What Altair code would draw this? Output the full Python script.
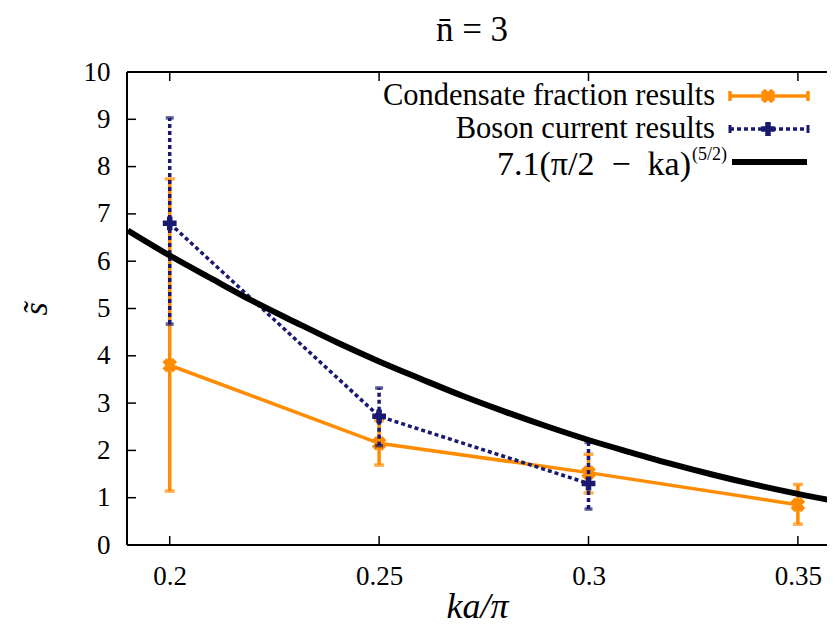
import altair as alt
import pandas as pd

# ---- data ----
x_ticks = [0.2, 0.25, 0.3, 0.35]
y_ticks = [0, 1, 2, 3, 4, 5, 6, 7, 8, 9, 10]

cf_x = [0.2, 0.25, 0.3, 0.35]
cf_y = [3.8, 2.15, 1.53, 0.85]
cf_lo = [1.14, 1.69, 1.1, 0.44]
cf_hi = [7.74, 2.63, 1.92, 1.28]

bc_x = [0.2, 0.25, 0.3]
bc_y = [6.8, 2.72, 1.3]
bc_lo = [4.67, 2.1, 0.76]
bc_hi = [9.03, 3.32, 2.17]

fit_x = [0.19, 0.20, 0.21, 0.22, 0.23, 0.24, 0.25, 0.26, 0.27, 0.28,
         0.29, 0.30, 0.31, 0.32, 0.33, 0.34, 0.35, 0.36]
fit_y = [6.65, 6.12, 5.63, 5.15, 4.71, 4.28, 3.88, 3.51, 3.15, 2.82,
         2.51, 2.22, 1.96, 1.71, 1.48, 1.27, 1.08, 0.91]

legend_labels = ["Condensate fraction results", "Boson current results",
                 "7.1(π/2\u2002−\u2002ka)", "(5/2)"]

ORANGE = "#ff8c00"
NAVY = "#191970"
BLACK = "#000000"
FONT = "Liberation Serif"

W, H = 700, 473

cf = pd.DataFrame({"x": cf_x, "y": cf_y, "lo": cf_lo, "hi": cf_hi})
bc = pd.DataFrame({"x": bc_x, "y": bc_y, "lo": bc_lo, "hi": bc_hi})
fit = pd.DataFrame({"x": fit_x, "y": fit_y})
xt = pd.DataFrame({"x": x_ticks})
yt = pd.DataFrame({"y": y_ticks})
one = pd.DataFrame({"k": [0]})

xs = alt.Scale(domain=[0.1898, 0.35695], nice=False, zero=False)
ys = alt.Scale(domain=[0, 10], nice=False, zero=False)

AX = alt.Axis(values=x_ticks, format="~g", ticks=False, domain=False, grid=False,
              labelFont=FONT, labelFontSize=27, labelPadding=18, labelColor="black",
              title="ka/π", titleFont=FONT, titleFontSize=36, titleFontStyle="italic",
              titleFontWeight="normal", titlePadding=0, titleColor="black")
AY = alt.Axis(values=y_ticks, format="d", ticks=False, domain=False, grid=False,
              labelFont=FONT, labelFontSize=27, labelPadding=17, labelColor="black",
              title="s̃", titleFont=FONT, titleFontSize=34, titleFontStyle="italic",
              titleFontWeight="normal", titlePadding=30, titleColor="black")


def X(f="x"):
    return alt.X(f"{f}:Q", scale=xs, axis=AX)


def Y(f="y"):
    return alt.Y(f"{f}:Q", scale=ys, axis=AY)


# frame (left, top, bottom; right edge lies beyond the picture)
frame = [
    alt.Chart(one).mark_rule(color="black", strokeWidth=2).encode(
        x=alt.value(0), y=alt.value(0), y2=alt.value(H)),
    alt.Chart(one).mark_rule(color="black", strokeWidth=2).encode(
        x=alt.value(0), x2=alt.value(W), y=alt.value(0)),
    alt.Chart(one).mark_rule(color="black", strokeWidth=2).encode(
        x=alt.value(0), x2=alt.value(W), y=alt.value(H)),
]

# inward ticks
tick_b = alt.Chart(xt).mark_rule(color="black", strokeWidth=1.5).encode(
    x=X(), y=alt.value(H), y2=alt.value(H - 9))
tick_t = alt.Chart(xt).mark_rule(color="black", strokeWidth=1.5).encode(
    x=X(), y=alt.value(0), y2=alt.value(9))
tick_l = alt.Chart(yt).mark_rule(color="black", strokeWidth=1.5).encode(
    y=Y(), x=alt.value(0), x2=alt.value(9))

# condensate fraction
cf_bar = alt.Chart(cf).mark_rule(color=ORANGE, strokeWidth=3.5).encode(
    x=X(), y=Y("lo"), y2="hi")
cf_cap_lo = alt.Chart(cf).mark_tick(color=ORANGE, orient="horizontal", size=10, thickness=3.5).encode(
    x=X(), y=Y("lo"))
cf_cap_hi = alt.Chart(cf).mark_tick(color=ORANGE, orient="horizontal", size=10, thickness=3.5).encode(
    x=X(), y=Y("hi"))
cf_line = alt.Chart(cf).mark_line(color=ORANGE, strokeWidth=3.5, clip=True).encode(x=X(), y=Y())
cf_pt = alt.Chart(cf).mark_point(shape="cross", angle=45, filled=True, size=220,
                                 color=ORANGE, opacity=1).encode(x=X(), y=Y())

# boson current
DASH = [4, 3]
bc_bar = alt.Chart(bc).mark_rule(color=NAVY, strokeWidth=3.5, strokeDash=DASH).encode(
    x=X(), y=Y("lo"), y2="hi")
bc_cap_lo = alt.Chart(bc).mark_tick(color=NAVY, orient="horizontal", size=8, thickness=3.5).encode(
    x=X(), y=Y("lo"))
bc_cap_hi = alt.Chart(bc).mark_tick(color=NAVY, orient="horizontal", size=8, thickness=3.5).encode(
    x=X(), y=Y("hi"))
bc_line = alt.Chart(bc).mark_line(color=NAVY, strokeWidth=3.5, strokeDash=DASH, clip=True).encode(
    x=X(), y=Y())
bc_pt = alt.Chart(bc).mark_point(shape="cross", filled=True, size=190,
                                 color=NAVY, opacity=1).encode(x=X(), y=Y())

# fit curve
fit_line = alt.Chart(fit).mark_line(color=BLACK, strokeWidth=6, clip=True,
                                    interpolate="monotone").encode(x=X(), y=Y())

# manual legend (gnuplot style: text right-aligned, sample on the right)
LX_TEXT = 588
LX0, LX1, LXM = 603, 681, 641
ROWS = [24, 57, 90]


def leg_text(label, y, x=LX_TEXT, size=30.5, align="right", style="normal"):
    return alt.Chart(pd.DataFrame({"t": [label]})).mark_text(
        font=FONT, fontSize=size, align=align, baseline="middle", color="black",
        fontStyle=style
    ).encode(text="t:N", x=alt.value(x), y=alt.value(y))


leg = [
    leg_text(legend_labels[0], ROWS[0]),
    alt.Chart(one).mark_rule(color=ORANGE, strokeWidth=3.5).encode(
        x=alt.value(LX0), x2=alt.value(LX1), y=alt.value(ROWS[0])),
    alt.Chart(one).mark_rule(color=ORANGE, strokeWidth=3.5).encode(
        x=alt.value(LX0), y=alt.value(ROWS[0] - 5), y2=alt.value(ROWS[0] + 5)),
    alt.Chart(one).mark_rule(color=ORANGE, strokeWidth=3.5).encode(
        x=alt.value(LX1), y=alt.value(ROWS[0] - 5), y2=alt.value(ROWS[0] + 5)),
    alt.Chart(one).mark_point(shape="cross", angle=45, filled=True, size=220, color=ORANGE,
                              opacity=1).encode(x=alt.value(LXM), y=alt.value(ROWS[0])),
    leg_text(legend_labels[1], ROWS[1]),
    alt.Chart(one).mark_rule(color=NAVY, strokeWidth=3.5, strokeDash=DASH).encode(
        x=alt.value(LX0), x2=alt.value(LX1), y=alt.value(ROWS[1])),
    alt.Chart(one).mark_rule(color=NAVY, strokeWidth=3).encode(
        x=alt.value(LX0), y=alt.value(ROWS[1] - 4), y2=alt.value(ROWS[1] + 4)),
    alt.Chart(one).mark_rule(color=NAVY, strokeWidth=3).encode(
        x=alt.value(LX1), y=alt.value(ROWS[1] - 4), y2=alt.value(ROWS[1] + 4)),
    alt.Chart(one).mark_point(shape="cross", filled=True, size=190, color=NAVY,
                              opacity=1).encode(x=alt.value(LXM), y=alt.value(ROWS[1])),
    leg_text(legend_labels[2], ROWS[2] + 3, x=LX_TEXT - 24, size=34),
    leg_text(legend_labels[3], ROWS[2] - 7, x=LX_TEXT - 23, size=18, align="left"),
    alt.Chart(one).mark_rule(color=BLACK, strokeWidth=6).encode(
        x=alt.value(LX0 + 2), x2=alt.value(LX1 - 1), y=alt.value(ROWS[2])),
]

chart = alt.layer(
    *frame, tick_b, tick_t, tick_l,
    cf_bar, cf_cap_lo, cf_cap_hi, cf_line, cf_pt,
    bc_bar, bc_cap_lo, bc_cap_hi, bc_line, bc_pt,
    fit_line, *leg,
).properties(
    width=W, height=H,
    background="white",
    title=alt.TitleParams(text="n̄ = 3", font=FONT, fontSize=35, fontWeight="normal",
                          color="black", offset=10, dx=-5),
    autosize=alt.AutoSizeParams(type="none"),
    padding={"left": 119, "top": 64, "right": 0, "bottom": 80},
).configure_view(stroke=None)

chart.save("out.html", embed_options={"renderer": "svg", "actions": False})
